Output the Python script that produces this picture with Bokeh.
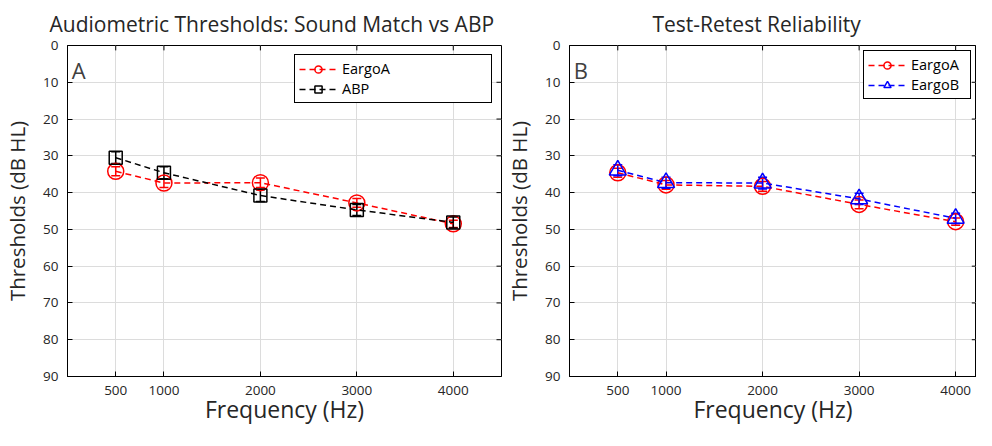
from bokeh.plotting import figure
from bokeh.models import (Range1d, FixedTicker, Legend, LegendItem,
                          Label, ColumnDataSource, Whisker, TeeHead)
from bokeh.layouts import row
from bokeh.embed import file_html
from bokeh.resources import INLINE

# ---------------- data ----------------
freqs = [500, 1000, 2000, 3000, 4000]
x_tick_labels = ["500", "1000", "2000", "3000", "4000"]
y_ticks = [0, 10, 20, 30, 40, 50, 60, 70, 80, 90]

# Panel A: Sound Match (EargoA) vs ABP
a_eargoA = [34.2, 37.4, 37.3, 42.8, 48.5]
a_eargoA_err = [1.2, 1.2, 1.3, 1.2, 1.0]
a_abp = [30.5, 34.6, 40.8, 44.7, 48.1]
a_abp_err = [1.6, 1.6, 1.6, 1.5, 1.5]

# Panel B: test-retest
b_eargoA = [34.6, 37.9, 38.3, 43.2, 47.9]
b_eargoA_err = [1.2, 1.2, 1.3, 1.2, 1.0]
b_eargoB = [33.9, 37.3, 37.4, 41.7, 47.0]
b_eargoB_err = [1.5, 1.5, 1.6, 1.5, 1.4]

FONT = "Open Sans"
TXT = "#262626"


def make_panel(title, letter, series, width, bl, br, xmax, label_width, title_offset,
               legend_margin):
    ymax, ymin = 90, 0
    p = figure(width=width, height=430, output_backend="svg", toolbar_location=None,
               x_range=Range1d(0, xmax), y_range=Range1d(ymax, ymin),
               min_border_left=bl, min_border_right=br, min_border_top=38,
               min_border_bottom=54)
    p.title.text = title
    p.title.align = "left"
    p.title.offset = title_offset
    p.title.text_font = FONT
    p.title.text_font_size = "21px"
    p.title.text_font_style = "normal"
    p.title.text_color = TXT
    p.title.standoff = 15
    p.outline_line_color = "black"
    p.outline_line_width = 1
    p.outline_line_alpha = 1

    p.xaxis.ticker = FixedTicker(ticks=freqs)
    p.xaxis.major_label_overrides = {f: l for f, l in zip(freqs, x_tick_labels)}
    p.yaxis.ticker = FixedTicker(ticks=y_ticks)
    for ax in (p.xaxis[0], p.yaxis[0]):
        ax.major_tick_in = 5
        ax.major_tick_out = 0
        ax.minor_tick_line_color = None
        ax.axis_line_color = "black"
        ax.major_tick_line_color = "black"
        ax.major_label_text_font = FONT
        ax.major_label_text_font_size = "13.5px"
        ax.major_label_text_color = TXT
        ax.axis_label_text_font = FONT
        ax.axis_label_text_font_style = "normal"
        ax.axis_label_text_color = TXT
    p.xaxis.axis_label_text_font_size = "23px"
    p.yaxis.axis_label_text_font_size = "20.5px"
    p.xaxis.axis_label = "Frequency (Hz)"
    p.yaxis.axis_label = "Thresholds (dB HL)"
    p.xaxis.major_label_standoff = 9
    p.xaxis.axis_label_standoff = -5
    p.yaxis.major_label_standoff = 9
    p.yaxis.axis_label_standoff = 9

    p.grid.grid_line_color = "#dcdcdc"
    p.grid.grid_line_width = 1

    # mirrored tick marks on top and right edges (box on)
    tick_len_y = (ymax - ymin) * 5 / 338
    tick_len_x = xmax * 5 / 433
    p.segment(x0=freqs, y0=[ymin] * len(freqs), x1=freqs,
              y1=[ymin + tick_len_y] * len(freqs), line_color="black", line_width=1)
    p.segment(x0=[xmax] * len(y_ticks), y0=y_ticks, x1=[xmax - tick_len_x] * len(y_ticks),
              y1=y_ticks, line_color="black", line_width=1)

    items = []
    for name, ys, errs, color, marker, size in series:
        src = ColumnDataSource(dict(x=freqs, y=ys,
                                    lo=[v - e for v, e in zip(ys, errs)],
                                    hi=[v + e for v, e in zip(ys, errs)]))
        lr = p.line("x", "y", source=src, line_color=color, line_width=1.5,
                    line_dash="6 4")
        w = Whisker(base="x", lower="lo", upper="hi", source=src, dimension="height",
                    line_color=color, line_width=1.5,
                    upper_head=TeeHead(size=9, line_color=color, line_width=1.5),
                    lower_head=TeeHead(size=9, line_color=color, line_width=1.5))
        p.add_layout(w)
        sr = p.scatter("x", "y", source=src, marker=marker, size=size, fill_color=None,
                       line_color=color, line_width=1.5)
        items.append(LegendItem(label=name, renderers=[lr, sr]))

    leg = Legend(items=items, location="top_right")
    leg.margin = legend_margin
    leg.border_line_color = "black"
    leg.border_line_width = 1
    leg.border_line_alpha = 1
    leg.label_text_font = FONT
    leg.label_text_font_size = "14.5px"
    leg.label_text_color = "black"
    leg.glyph_width = 38
    leg.glyph_height = 18
    leg.label_width = label_width
    leg.label_height = 18
    leg.spacing = 1
    leg.padding = 4
    leg.background_fill_alpha = 1
    p.add_layout(leg)

    p.add_layout(Label(x=45, y=2.5, text=letter, text_font=FONT, text_font_size="22px",
                       text_color="#404040", text_baseline="top", text_align="left"))
    return p


pA = make_panel("Audiometric Thresholds: Sound Match vs ABP", "A",
                [("EargoA", a_eargoA, a_eargoA_err, "red", "circle", 16),
                 ("ABP", a_abp, a_abp_err, "black", "square", 13)],
                width=502, bl=59, br=1, xmax=4500, label_width=145, title_offset=-18,
                legend_margin=9)
pB = make_panel("Test-Retest Reliability", "B",
                [("EargoA", b_eargoA, b_eargoA_err, "red", "circle", 16),
                 ("EargoB", b_eargoB, b_eargoB_err, "blue", "triangle", 17)],
                width=474, bl=59, br=0, xmax=4216, label_width=55, title_offset=83,
                legend_margin=5)

layout = row(pA, pB)
open("out.html", "w").write(file_html(layout, INLINE))
